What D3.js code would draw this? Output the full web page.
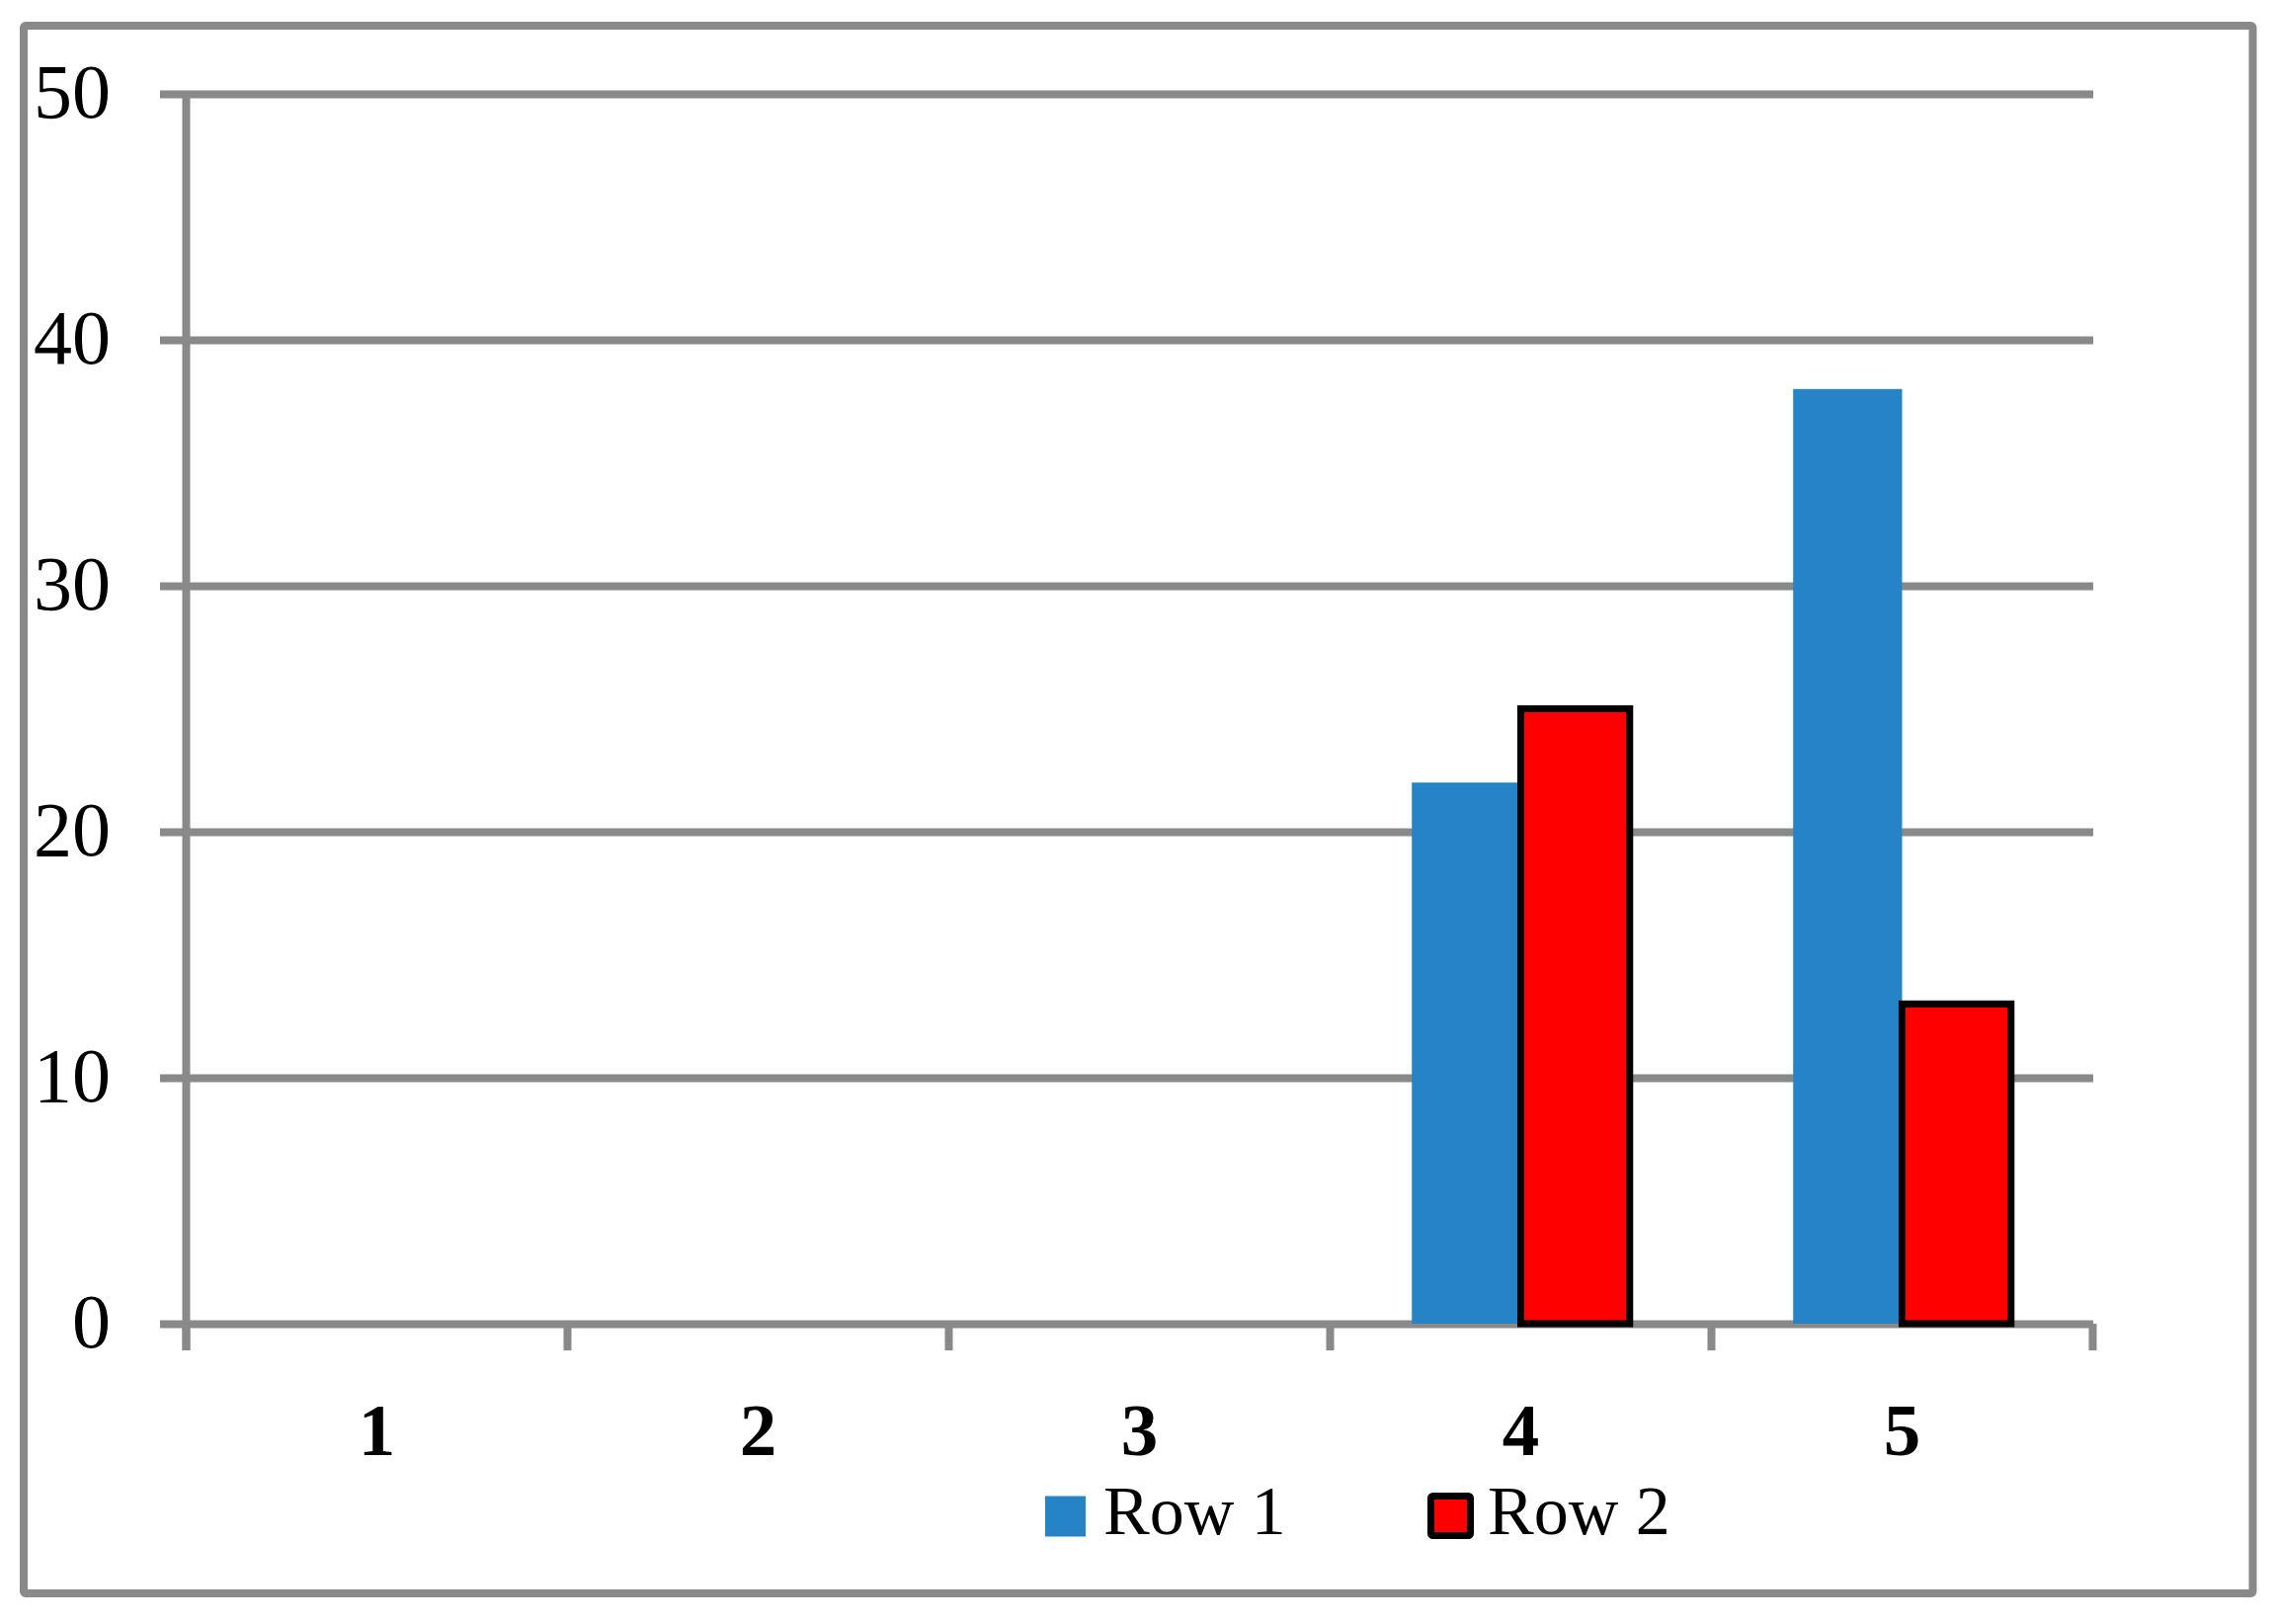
<!DOCTYPE html>
<html>
<head>
<meta charset="utf-8">
<script src="https://cdn.jsdelivr.net/npm/d3@7"></script>
<style>
  body { margin: 0; background: #fff; }
  svg { display: block; }
  .tick text { font-family: 'Liberation Serif', 'Times New Roman', serif; fill: #000; }
</style>
</head>
<body>
<div id="chart"></div>
<script>
// Data
const categories = ['1', '2', '3', '4', '5']
const seriesNames = ['Row 1', 'Row 2']
const row1 = [0, 0, 0, 22, 38]
const row2 = [0, 0, 0, 25, 13]
const yTicks = [0, 10, 20, 30, 40, 50]

const width = 2303
const height = 1644
const grid = '#898989'
const colors = { 'Row 1': '#2683c6', 'Row 2': '#ff0000' }

const plot = { left: 188.5, right: 2118.5, top: 95, bottom: 1340 }

const svg = d3
  .select('#chart')
  .append('svg')
  .attr('width', width)
  .attr('height', height)

svg.append('rect').attr('width', width).attr('height', height).attr('fill', '#fff')

// Outer frame
svg
  .append('rect')
  .attr('x', 24)
  .attr('y', 26)
  .attr('width', 2280.5 - 24)
  .attr('height', 1613 - 26)
  .attr('rx', 2)
  .attr('fill', 'none')
  .attr('stroke', grid)
  .attr('stroke-width', 8)

// Scales
const x = d3
  .scaleBand()
  .domain(categories)
  .range([plot.left, plot.right])
  .padding(0)

const bw = x.bandwidth()
const xSeries = d3
  .scaleBand()
  .domain(seriesNames)
  .range([(bw * 0.75) / 3.5, (bw * 2.75) / 3.5])
  .padding(0)

const y = d3.scaleLinear().domain([0, 50]).range([plot.bottom, plot.top])

// Gridlines + y labels
const gridLeft = 162
const gridRight = 2119
const yAxis = svg
  .append('g')
  .attr('transform', `translate(${gridLeft},0)`)
  .call(
    d3
      .axisLeft(y)
      .tickValues(yTicks)
      .tickSize(-(gridRight - gridLeft))
      .tickPadding(50)
      .tickFormat(d3.format('d')),
  )
yAxis.select('.domain').remove()
yAxis.selectAll('.tick line').attr('stroke', grid).attr('stroke-width', 8)
yAxis
  .selectAll('.tick text')
  .attr('font-size', 78)
  .attr('dy', '0.3em')

// Bars
const rows = seriesNames.map((name, i) => ({
  name,
  values: (i === 0 ? row1 : row2).map((v, j) => ({ cat: categories[j], value: v })),
}))

rows.forEach(s => {
  svg
    .append('g')
    .selectAll('rect')
    .data(s.values.filter(d => d.value > 0))
    .enter()
    .append('rect')
    .attr('x', d => x(d.cat) + xSeries(s.name))
    .attr('width', xSeries.bandwidth())
    .attr('y', d => y(d.value))
    .attr('height', d => y(0) - y(d.value))
    .attr('fill', colors[s.name])
    .attr('stroke', s.name === 'Row 2' ? '#000' : 'none')
    .attr('stroke-width', 7)
})

// Vertical axis line
svg
  .append('line')
  .attr('x1', plot.left)
  .attr('x2', plot.left)
  .attr('y1', y(50))
  .attr('y2', plot.bottom + 27)
  .attr('stroke', grid)
  .attr('stroke-width', 8)

// Category boundary ticks
const bounds = categories.map(c => x(c)).concat([x(categories[categories.length - 1]) + bw])
svg
  .append('g')
  .selectAll('line')
  .data(bounds)
  .enter()
  .append('line')
  .attr('x1', d => d)
  .attr('x2', d => d)
  .attr('y1', plot.bottom)
  .attr('y2', plot.bottom + 27)
  .attr('stroke', grid)
  .attr('stroke-width', 8)

// X labels
const xAxis = svg
  .append('g')
  .attr('transform', `translate(0,${plot.bottom})`)
  .call(d3.axisBottom(x).tickSize(0).tickPadding(80))
xAxis.select('.domain').remove()
xAxis.selectAll('.tick text').attr('font-size', 75).attr('font-weight', 'bold')

// Legend
const legend = svg.append('g')
const legendItems = [
  { name: 'Row 1', sx: 1058, tx: 1117 },
  { name: 'Row 2', sx: 1448.5, tx: 1506 },
]
legendItems.forEach(it => {
  legend
    .append('rect')
    .attr('x', it.sx)
    .attr('y', 1514.5)
    .attr('width', it.name === 'Row 2' ? 40 : 41)
    .attr('height', it.name === 'Row 2' ? 40 : 41)
    .attr('fill', colors[it.name])
    .attr('stroke', it.name === 'Row 2' ? '#000' : 'none')
    .attr('stroke-width', 7)
    .attr('rx', it.name === 'Row 2' ? 2 : 0)
  legend
    .append('text')
    .attr('x', it.tx)
    .attr('y', 1553)
    .attr('font-family', "'Liberation Serif', 'Times New Roman', serif")
    .attr('font-size', 70)
    .attr('fill', '#000')
    .text(it.name)
})
</script>
</body>
</html>
